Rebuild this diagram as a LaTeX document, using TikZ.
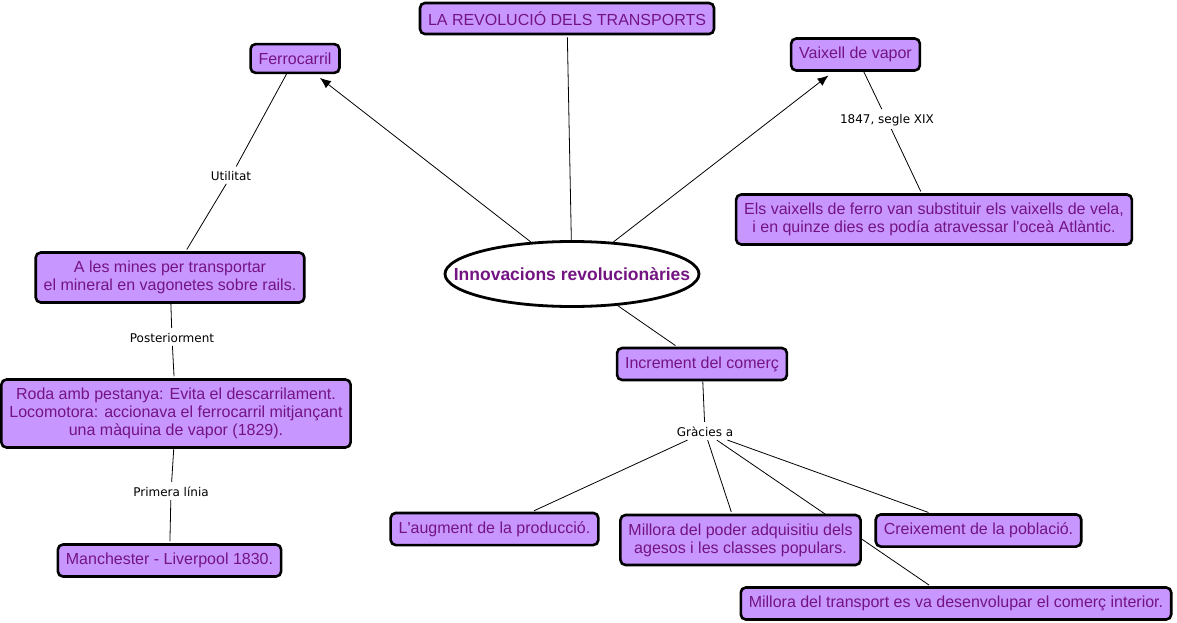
\documentclass[tikz,border=0pt]{standalone}
\usepackage{fontspec}
\setmainfont{Liberation Sans}
\newfontfamily\linkfont{DejaVu Sans}
\usetikzlibrary{arrows.meta,backgrounds,shapes.geometric}

\definecolor{conceptfill}{RGB}{200,150,255}
\definecolor{concepttext}{RGB}{115,20,130}

\tikzset{
	concept/.style={draw=black, line width=2.6pt, rounded corners=5pt, fill=conceptfill,
		text=concepttext, align=center, inner xsep=8pt, inner ysep=8.5pt,
		font=\fontsize{16}{18}\selectfont},
	mainconcept/.style={ellipse, draw=black, line width=2.8pt, fill=white, text=concepttext,
		font=\bfseries\fontsize{17.5}{20}\selectfont, inner sep=0pt,
		minimum width=254pt, minimum height=65pt},
	linking/.style={font=\linkfont\fontsize{12}{14}\selectfont, inner sep=3pt},
	link/.style={draw=black, line width=0.8pt, shorten >=2pt},
}

\begin{document}
\begin{tikzpicture}[x=1pt,y=-1pt]
		\useasboundingbox (0,0) rectangle (1177,623);
		
		% concepts
		\node[concept] (title) at (567,18.5) {LA REVOLUCIÓ DELS TRANSPORTS};
		\node[concept] (ferro) at (295,58.5) {Ferrocarril};
		\node[concept] (vaixell) at (855.5,54.5) {Vaixell de vapor};
		\node[concept] (ferrovela) at (934,219.5) {Els vaixells de ferro van substituir els vaixells de vela,\\ i en quinze dies es podía atravessar l\textquotesingle oceà Atlàntic.};
		\node[mainconcept] (innov) at (572,274) {\makebox[140pt]{Innovacions revolucionàries}};
		\node[concept] (mines) at (170,277.5) {A les mines per transportar\\ el mineral en vagonetes sobre rails.};
		\node[concept] (roda) at (176,413.5) {Roda amb pestanya: Evita el descarrilament.\\ Locomotora: accionava el ferrocarril mitjançant\\ una màquina de vapor (1829).};
		\node[concept] (manch) at (169.5,560.5) {Manchester - Liverpool 1830.};
		\node[concept] (comerc) at (702,364) {Increment del comerç};
		\node[concept] (augment) at (494.5,529) {L\textquotesingle augment de la producció.};
		\node[concept] (poder) at (740.5,540) {Millora del poder adquisitiu dels\\ agesos i les classes populars.};
		\node[concept] (creix) at (978.5,530.5) {Creixement de la població.};
		\node[concept] (transp) at (956,603.5) {Millora del transport es va desenvolupar el comerç interior.};
		
		% linking phrases
		\node[linking] (utilitat) at (231,176) {Utilitat};
		\node[linking] (segle) at (887,120) {1847, segle XIX};
		\node[linking] (poster) at (172,338) {Posteriorment};
		\node[linking] (primera) at (171,492) {Primera línia};
		\node[linking] (gracies) at (705,432) {Gràcies a};
		
		\begin{pgfonlayer}{background}
		\path[link]
		(innov) edge (title)
		(ferro) edge (utilitat)
		(utilitat) edge (mines)
		(vaixell) edge (segle)
		(segle) edge (ferrovela)
		(mines) edge (poster)
		(poster) edge (roda)
		(roda) edge (primera)
		(primera) edge (manch)
		(innov) edge (comerc)
		(comerc) edge (gracies)
		(gracies) edge (augment)
		(gracies) edge (poder)
		(gracies) edge (transp)
		(gracies) edge (creix);
		\path[link,-{Latex[length=11pt,width=9pt]},shorten >=6pt]
		(innov) edge (ferro)
		(innov) edge (vaixell);
		\end{pgfonlayer}
		
	\end{tikzpicture}
\end{document}
